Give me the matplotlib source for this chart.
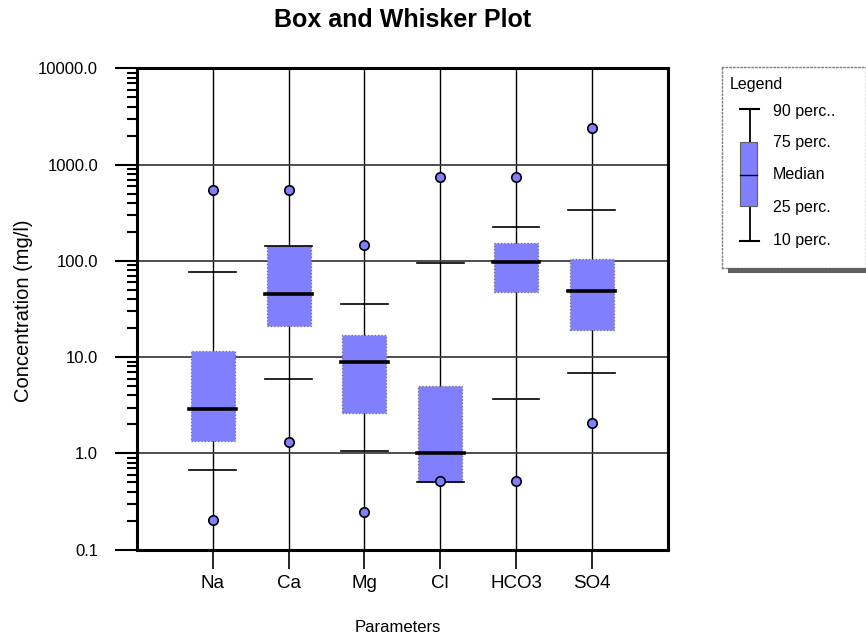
import numpy as np
import matplotlib
matplotlib.use('Agg')
from matplotlib import pyplot as plt
from matplotlib.patches import Rectangle

plt.rcParams['font.family'] = ['Liberation Sans', 'DejaVu Sans']

# data (mg/l)
params = ['Na', 'Ca', 'Mg', 'Cl', 'HCO3', 'SO4']
p10 = [0.68, 6.0, 1.07, 0.51, 3.7, 6.8]
p25 = [1.36, 21.0, 2.6, 0.51, 47.0, 19.2]
median = [2.9, 45.5, 8.9, 1.0, 97.0, 49.0]
p75 = [11.6, 142.0, 16.9, 5.0, 153.0, 105.0]
p90 = [77.0, 142.0, 36.0, 96.0, 227.0, 340.0]
min_vals = [0.206, 1.33, 0.246, 0.517, 0.517, 2.07]
max_vals = [550.0, 540.0, 146.0, 750.0, 740.0, 2390.0]

yticks = [0.1, 1, 10, 100, 1000, 10000]

box_color = '#8080FF'
box_w = 0.58
cap_w = 0.62

fig = plt.figure(figsize=(8.66, 6.39), dpi=100)
ax = fig.add_axes([0.1582, 0.1397, 0.6127, 0.7534])

x = np.arange(1, len(params) + 1)
for i, xi in enumerate(x):
    ax.add_patch(Rectangle((xi - box_w / 2, p25[i]), box_w, p75[i] - p25[i],
                           facecolor=box_color, edgecolor='#707070',
                           linestyle=':', lw=0.9, zorder=3))
    ax.plot([xi - cap_w / 2, xi + cap_w / 2], [median[i]] * 2, color='black', lw=2.6, zorder=4)
    ax.plot([xi - cap_w / 2, xi + cap_w / 2], [p90[i]] * 2, color='black', lw=1.2, zorder=4)
    ax.plot([xi - cap_w / 2, xi + cap_w / 2], [p10[i]] * 2, color='black', lw=1.2, zorder=4)
ax.plot(x, max_vals, 'o', ms=6.8, mfc=box_color, mec='black', mew=1.2, zorder=5, clip_on=False)
ax.plot(x, min_vals, 'o', ms=6.8, mfc=box_color, mec='black', mew=1.2, zorder=5, clip_on=False)

ax.set_yscale('log')
ax.set_ylim(0.1, 10000)
ax.set_xlim(0, 7)
ax.set_yticks(yticks)
ax.set_yticklabels(['%.1f' % v for v in yticks])
ax.set_xticks(x)
ax.set_xticklabels(params)
ax.tick_params(axis='y', which='major', direction='out', length=16, width=1.5, pad=12, labelsize=12)
ax.tick_params(axis='y', which='minor', direction='out', length=7, width=1.5)
ax.tick_params(axis='x', which='major', direction='out', length=14, width=1.2, pad=4, labelsize=13.5)
ax.set_axisbelow(True)
ax.yaxis.grid(True, which='major', color='#404040', lw=1.3)
ax.xaxis.grid(True, which='major', color='black', lw=1.0)
for s in ax.spines.values():
    s.set_linewidth(2.2)

fig.text(0.465, 1 - 20 / 639, 'Box and Whisker Plot', ha='center', va='center',
         fontsize=18, fontweight='bold')
fig.text(0.459, 1 - 628 / 639, 'Parameters', ha='center', va='center', fontsize=12)
fig.text(24 / 866, 1 - 311 / 639, 'Concentration (mg/l)', ha='center', va='center',
         rotation=90, fontsize=14.5)

# legend panel
lg = fig.add_axes([722 / 866, 1 - 268 / 639, 144 / 866, 201 / 639])
lg.set_xlim(0, 1)
lg.set_ylim(0, 1)
lg.set_xticks([])
lg.set_yticks([])
for s in lg.spines.values():
    s.set_linestyle(':')
    s.set_color('#808080')
    s.set_linewidth(1.0)
fig.patches.append(Rectangle((728 / 866, 1 - 273 / 639), 138 / 866, 5 / 639,
                             transform=fig.transFigure, facecolor='#606060',
                             edgecolor='none', figure=fig))
lg.text(0.056, 0.915, 'Legend', ha='left', va='center', fontsize=11.5)
gx = 0.194
lg.plot([gx, gx], [0.134, 0.79], color='black', lw=1.3)
lg.add_patch(Rectangle((0.125, 0.308), 0.118, 0.625 - 0.308, facecolor=box_color,
                       edgecolor='#606060', lw=0.8, zorder=3))
lg.plot([0.125, 0.257], [0.79, 0.79], color='black', lw=1.5)
lg.plot([0.125, 0.257], [0.134, 0.134], color='black', lw=1.5)
lg.plot([0.125, 0.243], [0.461, 0.461], color='black', lw=1.0, zorder=4)
leg_labels = ['90 perc..', '75 perc.', 'Median', '25 perc.', '10 perc.']
leg_y = [0.778, 0.622, 0.463, 0.299, 0.139]
for lab, ly in zip(leg_labels, leg_y):
    lg.text(0.354, ly, lab, ha='left', va='center', fontsize=11.5)

fig.savefig('out.png', dpi=100)
